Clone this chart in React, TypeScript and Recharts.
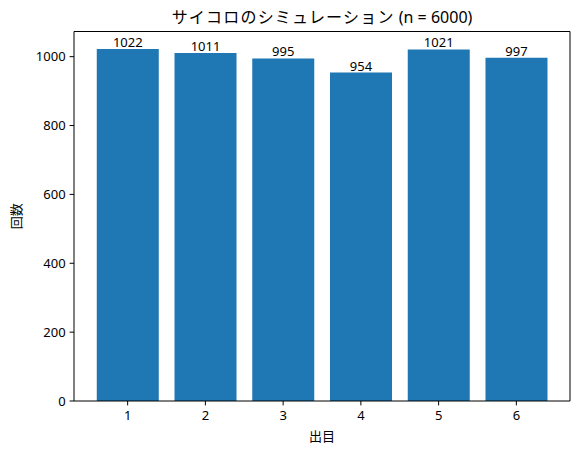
import React from 'react';
import { BarChart, Bar, XAxis, YAxis, LabelList, ReferenceLine, Label } from 'recharts';

const faces = [1, 2, 3, 4, 5, 6];
const counts = [1022, 1011, 995, 954, 1021, 997];
const yTicks = [0, 200, 400, 600, 800, 1000];
const titleJa = 'サイコロのシミュレーション';
const titleEn = ' (n = 6000)';
const xLabel = '出目';
const yLabel = '回数';

const data = faces.map((f, i) => ({ face: f, count: counts[i] }));

const FONT = '"Noto Sans", "Noto Sans CJK JP", sans-serif';
const Y_MAX = 1022 * 1.05;
const X_MIN = 0.31;
const X_MAX = 6.69;
const FS = 13;

export default function App() {
  return (
    <div style={{ position: 'absolute', left: 0, top: 0, width: 579, height: 452, background: '#fff' }}>
      <BarChart
        width={579}
        height={452}
        data={data}
        margin={{ top: 31.5, right: 9, bottom: 0, left: 0 }}
        style={{ fontFamily: FONT }}
      >
        <text x={322} y={17} textAnchor="middle" dominantBaseline="central" fontSize={16} fill="#000" fontFamily={FONT}>
          <tspan letterSpacing={1.2}>{titleJa}</tspan>
          <tspan style={{ whiteSpace: 'pre' }}>{titleEn}</tspan>
        </text>
        <XAxis
          dataKey="face"
          type="number"
          domain={[X_MIN, X_MAX]}
          ticks={faces}
          allowDataOverflow
          height={51}
          stroke="#000"
          tickSize={4.4}
          tickMargin={5}
          tick={{ fill: '#000', fontSize: FS, fontFamily: FONT }}
          axisLine={{ stroke: '#000', strokeWidth: 1 }}
        >
          <Label value={xLabel} position="insideBottom" offset={11} fill="#000" fontSize={FS} fontFamily={FONT} />
        </XAxis>
        <YAxis
          type="number"
          domain={[0, Y_MAX]}
          ticks={yTicks}
          allowDataOverflow
          width={74}
          stroke="#000"
          tickSize={4.4}
          tickMargin={4}
          tick={{ fill: '#000', fontSize: FS, fontFamily: FONT }}
          axisLine={{ stroke: '#000', strokeWidth: 1 }}
        >
          <Label
            value={yLabel}
            angle={-90}
            position="insideLeft"
            offset={16}
            style={{ textAnchor: 'middle' }}
            fill="#000"
            fontSize={FS}
            fontFamily={FONT}
          />
        </YAxis>
        <ReferenceLine y={Y_MAX} stroke="#000" strokeWidth={1} />
        <ReferenceLine x={X_MAX} stroke="#000" strokeWidth={1} />
        <Bar dataKey="count" fill="#1f77b4" barSize={62} isAnimationActive={false}>
          <LabelList dataKey="count" position="top" offset={2} fill="#000" fontSize={FS} fontFamily={FONT} />
        </Bar>
      </BarChart>
    </div>
  );
}
